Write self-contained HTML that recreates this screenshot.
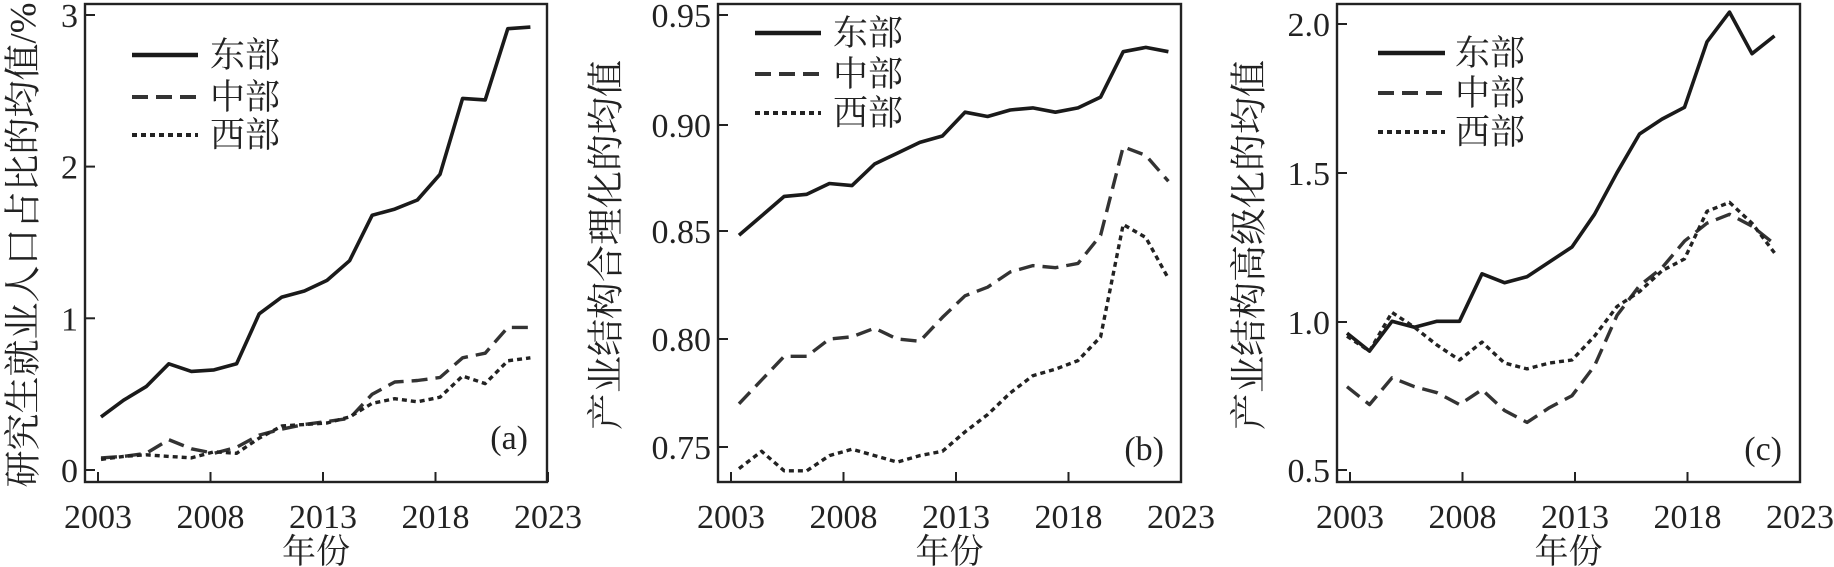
<!DOCTYPE html>
<html><head><meta charset="utf-8"><style>
html,body{margin:0;padding:0;background:#fff;}
svg{display:block;}
text{font-family:"Liberation Serif","Noto Serif CJK SC","Noto Sans CJK SC",serif;fill:#222;}
</style></head><body>
<svg id="s" width="1834" height="567" xmlns="http://www.w3.org/2000/svg"></svg>
<script>
var S=document.getElementById('s'),ns='http://www.w3.org/2000/svg';
function el(t,a,txt){var e=document.createElementNS(ns,t);for(var k in a)e.setAttribute(k,a[k]);if(txt!=null)e.textContent=txt;S.appendChild(e);return e;}
var styles=[{w:3.6,d:null,c:'#1a1a1a'},{w:3.4,d:'16 8',c:'#333'},{w:3.4,d:'5 4',c:'#222'}];
var P=[
{L:85,R:547,T:4,B:482,x0:98,x1:548,dx0:101,dstep:22.6,
 yt:[[0,470,'0'],[1,318.3,'1'],[2,166.6,'2'],[3,15,'3']],v0:0,y0:470,v1:3,y1:15,
 lab:'研究生就业人口占比的均值/%',labx:24,laby:245,
 leg:{x1:132,x2:198,tx:210,ys:[55,97,135]},pl:'(a)',plx:528,ply:449,
 d:[[0.35,0.46,0.55,0.70,0.65,0.66,0.70,1.03,1.14,1.18,1.25,1.38,1.68,1.72,1.78,1.95,2.45,2.44,2.91,2.92],
    [0.08,0.09,0.11,0.20,0.14,0.11,0.15,0.23,0.27,0.30,0.32,0.34,0.50,0.58,0.59,0.61,0.74,0.77,0.94,0.94],
    [0.07,0.09,0.10,0.09,0.08,0.12,0.11,0.21,0.29,0.30,0.31,0.35,0.44,0.47,0.45,0.48,0.62,0.57,0.72,0.74]]},
{L:718,R:1181,T:4,B:482,x0:731,x1:1181,dx0:739,dstep:22.6,
 yt:[[0.75,447,'0.75'],[0.80,339,'0.80'],[0.85,231,'0.85'],[0.90,125,'0.90'],[0.95,15,'0.95']],v0:0.75,y0:447,v1:0.95,y1:15,
 lab:'产业结构合理化的均值',labx:607,laby:245,
 leg:{x1:755,x2:821,tx:833,ys:[33,74,113]},pl:'(b)',plx:1164,ply:460,
 d:[[0.848,0.857,0.866,0.867,0.872,0.871,0.881,0.886,0.891,0.894,0.905,0.903,0.906,0.907,0.905,0.907,0.912,0.933,0.935,0.933],
    [0.770,0.781,0.792,0.792,0.800,0.801,0.805,0.800,0.799,0.810,0.820,0.824,0.831,0.834,0.833,0.835,0.848,0.889,0.885,0.873],
    [0.740,0.748,0.739,0.739,0.746,0.749,0.746,0.743,0.746,0.748,0.757,0.765,0.775,0.783,0.786,0.790,0.801,0.853,0.847,0.828]]},
{L:1337,R:1800,T:4,B:482,x0:1350,x1:1800,dx0:1347,dstep:22.5,
 yt:[[0.5,470,'0.5'],[1.0,322,'1.0'],[1.5,173,'1.5'],[2.0,24,'2.0']],v0:0.5,y0:470,v1:2.0,y1:24,
 lab:'产业结构高级化的均值',labx:1250,laby:245,
 leg:{x1:1378,x2:1445,tx:1455,ys:[53,93,132]},pl:'(c)',plx:1782,ply:460,
 d:[[0.96,0.90,1.00,0.98,1.00,1.00,1.16,1.13,1.15,1.20,1.25,1.36,1.50,1.63,1.68,1.72,1.94,2.04,1.90,1.96],
    [0.78,0.72,0.81,0.78,0.76,0.72,0.77,0.70,0.66,0.71,0.75,0.85,1.02,1.12,1.18,1.27,1.33,1.36,1.32,1.26],
    [0.95,0.90,1.03,0.98,0.92,0.87,0.93,0.86,0.84,0.86,0.87,0.95,1.05,1.10,1.17,1.21,1.37,1.40,1.33,1.23]]}
];
var names=['东部','中部','西部'];
P.forEach(function(p){
  el('rect',{x:p.L,y:p.T,width:p.R-p.L,height:p.B-p.T,fill:'none',stroke:'#222','stroke-width':2.4});
  p.yt.forEach(function(t){
    el('line',{x1:p.L,y1:t[1],x2:p.L+10,y2:t[1],stroke:'#222','stroke-width':2});
    el('text',{x:p.L-7,y:t[1]+12,'text-anchor':'end','font-size':34},t[2]);
  });
  var yrs=[2003,2008,2013,2018,2023];
  yrs.forEach(function(y,i){
    var x=p.x0+(p.x1-p.x0)*i/4;
    el('line',{x1:x,y1:p.B,x2:x,y2:p.B-10,stroke:'#222','stroke-width':2});
    el('text',{x:x,y:528,'text-anchor':'middle','font-size':34},String(y));
  });
  el('text',{x:(p.L+p.R)/2,y:563,'text-anchor':'middle','font-size':34},'年份');
  el('text',{x:p.labx,y:p.laby,'text-anchor':'middle','font-size':37,transform:'rotate(-90 '+p.labx+' '+p.laby+')',
    'dominant-baseline':'central'},p.lab);
  p.d.forEach(function(arr,k){
    var pts=arr.map(function(v,i){
      var x=p.dx0+p.dstep*i;
      var y=p.y0+(v-p.v0)*(p.y1-p.y0)/(p.v1-p.v0);
      return x.toFixed(1)+','+y.toFixed(1);}).join(' ');
    var st=styles[k],a={points:pts,fill:'none',stroke:st.c,'stroke-width':st.w,'stroke-linejoin':'round'};
    if(st.d)a['stroke-dasharray']=st.d;
    el('polyline',a);
    var la={x1:p.leg.x1,y1:p.leg.ys[k],x2:p.leg.x2,y2:p.leg.ys[k],stroke:st.c,'stroke-width':k==0?4.5:4};
    if(st.d)la['stroke-dasharray']=st.d;
    el('line',la);
    el('text',{x:p.leg.tx,y:p.leg.ys[k]+12,'font-size':35},names[k]);
  });
  el('text',{x:p.plx,y:p.ply,'text-anchor':'end','font-size':34},p.pl);
});
</script>
</body></html>
